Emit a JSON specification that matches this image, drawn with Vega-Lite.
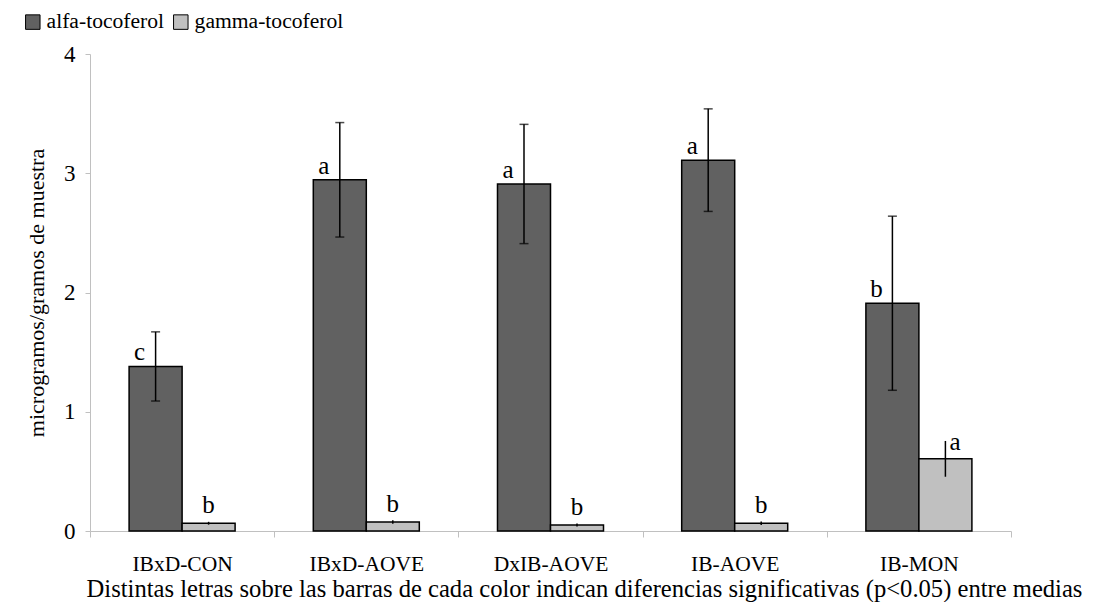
{
  "$schema": "https://vega.github.io/schema/vega-lite/v6.json",
  "width": 921,
  "height": 477,
  "autosize": "none",
  "padding": {"left": 90, "top": 54, "right": 84, "bottom": 71},
  "background": "white",
  "config": {
    "view": {"stroke": null},
    "font": "Liberation Serif, Times New Roman, DejaVu Serif, serif",
    "text": {"font": "Liberation Serif, Times New Roman, DejaVu Serif, serif"}
  },
  "data": {
    "values": [
      {"grupo": "IBxD-CON", "serie": "alfa-tocoferol", "valor": 1.38, "err": 0.29, "letra": "c"},
      {"grupo": "IBxD-CON", "serie": "gamma-tocoferol", "valor": 0.065, "err": 0.012, "letra": "b"},
      {"grupo": "IBxD-AOVE", "serie": "alfa-tocoferol", "valor": 2.945, "err": 0.48, "letra": "a"},
      {"grupo": "IBxD-AOVE", "serie": "gamma-tocoferol", "valor": 0.075, "err": 0.015, "letra": "b"},
      {"grupo": "DxIB-AOVE", "serie": "alfa-tocoferol", "valor": 2.91, "err": 0.5, "letra": "a"},
      {"grupo": "DxIB-AOVE", "serie": "gamma-tocoferol", "valor": 0.05, "err": 0.012, "letra": "b"},
      {"grupo": "IB-AOVE", "serie": "alfa-tocoferol", "valor": 3.11, "err": 0.43, "letra": "a"},
      {"grupo": "IB-AOVE", "serie": "gamma-tocoferol", "valor": 0.065, "err": 0.015, "letra": "b"},
      {"grupo": "IB-MON", "serie": "alfa-tocoferol", "valor": 1.91, "err": 0.73, "letra": "b"},
      {"grupo": "IB-MON", "serie": "gamma-tocoferol", "valor": 0.605, "err": 0.15, "letra": "a"}
    ]
  },
  "encoding": {
    "x": {
      "field": "grupo",
      "type": "nominal",
      "sort": ["IBxD-CON", "IBxD-AOVE", "DxIB-AOVE", "IB-AOVE", "IB-MON"],
      "scale": {"paddingInner": 0, "paddingOuter": 0},
      "axis": {
        "title": "Distintas letras sobre las barras de cada color indican diferencias significativas (p<0.05) entre medias",
        "titleFont": "Liberation Serif, Times New Roman, DejaVu Serif, serif",
        "titleFontSize": 24.6,
        "titleFontWeight": "normal",
        "titleColor": "black",
        "titleX": 494,
        "titleAlign": "center",
        "titlePadding": 3,
        "labelAngle": 0,
        "labelFont": "Liberation Serif, Times New Roman, DejaVu Serif, serif",
        "labelFontSize": 21.5,
        "labelColor": "black",
        "labelPadding": 16,
        "tickBand": "extent",
        "tickSize": 6,
        "tickColor": "#c0c0c0",
        "domainColor": "#c0c0c0",
        "grid": false
      }
    },
    "xOffset": {
      "field": "serie",
      "type": "nominal",
      "scale": {"paddingOuter": 0.7377, "paddingInner": 0}
    }
  },
  "layer": [
    {
      "mark": {"type": "bar", "stroke": "black", "strokeWidth": 1.5},
      "encoding": {
        "y": {
          "field": "valor",
          "type": "quantitative",
          "scale": {"domain": [0, 4], "nice": false},
          "axis": {
            "title": "microgramos/gramos de muestra",
            "titleFont": "Liberation Serif, Times New Roman, DejaVu Serif, serif",
            "titleFontSize": 22,
            "titleFontWeight": "normal",
            "titleColor": "black",
            "titlePadding": 15,
            "values": [0, 1, 2, 3, 4],
            "format": "d",
            "labelFont": "Liberation Serif, Times New Roman, DejaVu Serif, serif",
            "labelFontSize": 23,
            "labelColor": "black",
            "labelPadding": 10,
            "tickSize": 5,
            "tickColor": "#c0c0c0",
            "domainColor": "#c0c0c0",
            "grid": false
          }
        },
        "fill": {
          "field": "serie",
          "type": "nominal",
          "scale": {"domain": ["alfa-tocoferol", "gamma-tocoferol"], "range": ["#616161", "#c0c0c0"]},
          "legend": {
            "title": null,
            "orient": "none",
            "legendX": -68,
            "legendY": -43,
            "direction": "horizontal",
            "symbolType": "square",
            "symbolSize": 210,
            "symbolStrokeColor": "black",
            "symbolStrokeWidth": 1,
            "labelFont": "Liberation Serif, Times New Roman, DejaVu Serif, serif",
            "labelFontSize": 21.6,
            "labelColor": "black",
            "labelOffset": 3,
            "columnPadding": 5,
            "labelLimit": 300
          }
        }
      }
    },
    {
      "mark": {"type": "rule", "color": "black", "strokeWidth": 1.5},
      "encoding": {
        "y": {"field": "lo", "type": "quantitative"},
        "y2": {"field": "hi"}
      },
      "transform": [
        {"calculate": "datum.valor - datum.err", "as": "lo"},
        {"calculate": "datum.valor + datum.err", "as": "hi"}
      ]
    },
    {
      "transform": [
        {"filter": "datum.serie == 'alfa-tocoferol'"},
        {"calculate": "datum.valor - datum.err", "as": "lo"},
        {"calculate": "datum.valor + datum.err", "as": "hi"},
        {"fold": ["lo", "hi"], "as": ["extremo", "pos"]}
      ],
      "mark": {"type": "tick", "color": "black", "thickness": 1.5, "size": 9, "orient": "horizontal"},
      "encoding": {
        "y": {"field": "pos", "type": "quantitative"}
      }
    },
    {
      "transform": [{"filter": "datum.serie == 'alfa-tocoferol'"}],
      "mark": {"type": "text", "fontSize": 25, "color": "black", "baseline": "alphabetic", "dx": -16, "dy": -6},
      "encoding": {
        "y": {"field": "valor", "type": "quantitative"},
        "text": {"field": "letra"}
      }
    },
    {
      "transform": [{"filter": "datum.serie == 'gamma-tocoferol' && datum.grupo != 'IB-MON'"}],
      "mark": {"type": "text", "fontSize": 25, "color": "black", "baseline": "alphabetic", "dy": -10},
      "encoding": {
        "y": {"field": "valor", "type": "quantitative"},
        "text": {"field": "letra"}
      }
    },
    {
      "transform": [{"filter": "datum.serie == 'gamma-tocoferol' && datum.grupo == 'IB-MON'"}],
      "mark": {"type": "text", "fontSize": 25, "color": "black", "baseline": "alphabetic", "align": "left", "dx": 4, "dy": -9},
      "encoding": {
        "y": {"field": "valor", "type": "quantitative"},
        "text": {"field": "letra"}
      }
    }
  ]
}
